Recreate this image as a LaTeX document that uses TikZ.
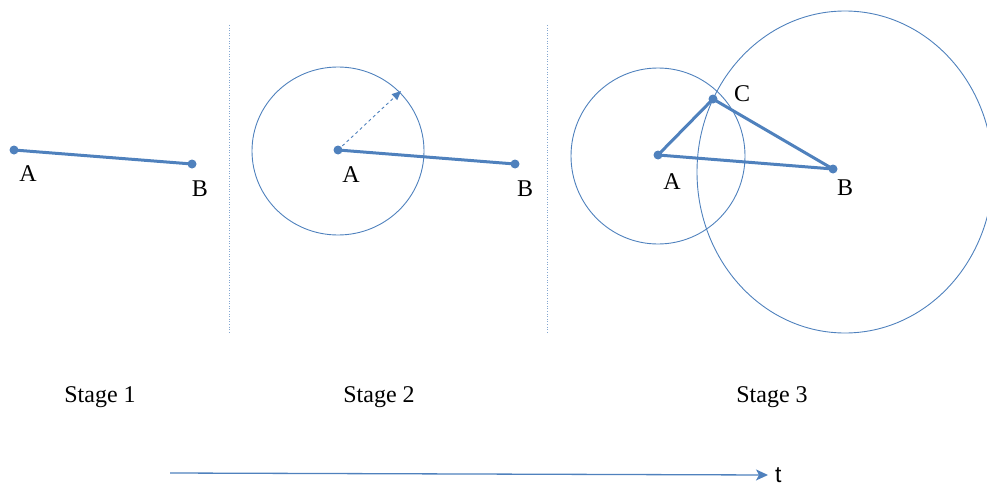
\documentclass[tikz,border=0pt]{standalone}
\usepackage{fontspec}
\setmainfont{Liberation Serif}
\newfontfamily\arialfont{Liberation Sans}
\usetikzlibrary{arrows.meta}
\definecolor{obl}{RGB}{79,129,189}
\begin{document}
\begin{tikzpicture}[x=1pt,y=-1pt,
  seg/.style={draw=obl,line width=3pt},
  thin/.style={draw=obl,line width=0.9pt},
  dot/.style={circle,fill=obl,inner sep=0pt,minimum size=9pt},
  lbl/.style={font=\fontsize{24}{26}\selectfont,inner sep=0pt},
  sep/.style={draw=obl!70,line width=0.6pt,dotted}]
\useasboundingbox (0,0) rectangle (987,487);
\begin{scope}
\clip (0,0) rectangle (987,487);
% separators
\coordinate (s1t) at (229,25); \coordinate (s1b) at (229,333);
\coordinate (s2t) at (547,25); \coordinate (s2b) at (547,333);
\draw[sep] (s1t) -- (s1b);
\draw[sep] (s2t) -- (s2b);
% stage 1
\node[dot] (a1) at (14,150) {};
\node[dot] (b1) at (192,164) {};
\draw[seg] (a1.center) -- (b1.center);
\node[lbl] (la1) at (28,174) {A};
\node[lbl] (lb1) at (200,189) {B};
% stage 2
\draw[thin] (338,151) ellipse [x radius=86, y radius=84];
\coordinate (tip2) at (401,91);
\node[dot] (a2) at (338,150) {};
\node[dot] (b2) at (515,164) {};
\draw[obl,line width=0.9pt,dashed,-{Triangle[length=9pt,width=8pt]}] (a2.center) -- (tip2);
\draw[seg] (a2.center) -- (b2.center);
\node[lbl] (la2) at (351,175) {A};
\node[lbl] (lb2) at (525,189) {B};
% stage 3
\draw[thin] (658,156) ellipse [x radius=87, y radius=88];
\draw[thin] (845,172) ellipse [x radius=148, y radius=161];
\node[dot] (a3) at (658,155) {};
\node[dot] (b3) at (833,169) {};
\node[dot] (c3) at (713,99) {};
\draw[seg] (a3.center) -- (b3.center);
\draw[seg] (a3.center) -- (c3.center) -- (b3.center);
\node[lbl] (la3) at (672,182) {A};
\node[lbl] (lb3) at (845,188) {B};
\node[lbl] (lc3) at (742,94) {C};
% stage labels
\node[lbl] (st1) at (100,397) {Stage 1};
\node[lbl] (st2) at (379,397) {Stage 2};
\node[lbl] (st3) at (772,397) {Stage 3};
% time axis
\coordinate (t0) at (170,473);
\node[font=\arialfont\fontsize{23}{25}\selectfont,inner sep=0pt,anchor=west] (tl) at (775,475) {t};
\coordinate (t1) at (768,475);
\draw[obl,line width=1.3pt,-{Stealth[length=12pt,width=11pt,inset=3pt]}] (t0) -- (t1);
\end{scope}
\end{tikzpicture}
\end{document}
